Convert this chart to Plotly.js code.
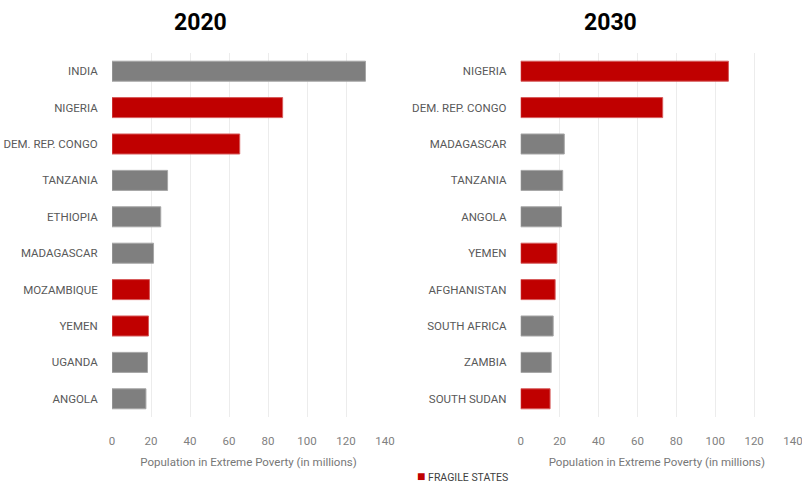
<!DOCTYPE html>
<html>
<head>
<meta charset="utf-8">
<script src="https://cdn.plot.ly/plotly-3.0.1.min.js"></script>
<style>html,body{margin:0;padding:0;background:#fff}#chart{width:802px;height:483px}</style>
</head>
<body>
<div id="chart"></div>
<script>
// 2020 panel
const countries2020 = ["INDIA","NIGERIA","DEM. REP. CONGO","TANZANIA","ETHIOPIA","MADAGASCAR","MOZAMBIQUE","YEMEN","UGANDA","ANGOLA"];
const values2020 = [130, 87.5, 65.5, 28.5, 25, 21.3, 19.2, 18.7, 18.2, 17.4];
const fragile2020 = [false, true, true, false, false, false, true, true, false, false];
// 2030 panel
const countries2030 = ["NIGERIA","DEM. REP. CONGO","MADAGASCAR","TANZANIA","ANGOLA","YEMEN","AFGHANISTAN","SOUTH AFRICA","ZAMBIA","SOUTH SUDAN"];
const values2030 = [106.8, 73, 22.4, 21.6, 21, 18.6, 17.7, 16.7, 15.7, 15.1];
const fragile2030 = [true, true, false, false, false, true, true, false, false, true];
const xTicks = [0, 20, 40, 60, 80, 100, 120, 140];
const panelTitles = ["2020", "2030"];
const axisTitle = "Population in Extreme Poverty (in millions)";
const legendLabel = "FRAGILE STATES";

const RED = "#C00000", GRAY = "#7F7F7F";
const FONT = "Roboto, 'Liberation Sans', sans-serif";

function split(cats, vals, flags, wantFragile) {
  return {x: vals.map((v, i) => flags[i] === wantFragile ? v : null), y: cats};
}
function traces(cats, vals, flags, xa, ya) {
  const f = split(cats, vals, flags, true), g = split(cats, vals, flags, false);
  return [
    {type: "bar", orientation: "h", x: g.x, y: g.y, xaxis: xa, yaxis: ya,
     marker: {color: GRAY, line: {color: "#a6a6a6", width: 1}}, showlegend: false, hoverinfo: "x+y"},
    {type: "bar", orientation: "h", x: f.x, y: f.y, xaxis: xa, yaxis: ya, name: legendLabel,
     marker: {color: RED, line: {color: "#d65a5a", width: 1}}, showlegend: false, hoverinfo: "x+y"}
  ];
}

const data = [
  ...traces(countries2020, values2020, fragile2020, "x", "y"),
  ...traces(countries2030, values2030, fragile2030, "x2", "y2")
];

function xax(domain, anchor) {
  return {
    domain: domain, anchor: anchor, range: [0, 140], tickvals: xTicks,
    showgrid: true, gridcolor: "#ececec", gridwidth: 1, zeroline: false, showline: false,
    ticks: "outside", ticklen: 13, tickcolor: "rgba(0,0,0,0)", ticklabeloverflow: "allow",
    tickfont: {family: FONT, size: 11.5, color: "#808080"},
    title: {text: axisTitle, font: {family: FONT, size: 11.5, color: "#777777"}, standoff: 11},
    fixedrange: true
  };
}
function yax(cats, anchor) {
  return {
    anchor: anchor, type: "category", categoryorder: "array", categoryarray: cats,
    autorange: "reversed", showgrid: false, zeroline: false, showline: false,
    ticks: "outside", ticklen: 11, tickcolor: "rgba(0,0,0,0)",
    tickfont: {family: FONT, size: 11.5, color: "#595959"}, fixedrange: true
  };
}

const layout = {
  width: 802, height: 483,
  margin: {l: 0, r: 0, t: 53, b: 66},
  paper_bgcolor: "#fff", plot_bgcolor: "#fff",
  barmode: "relative", bargap: 0.45,
  xaxis: xax([112/802, 385/802], "y"),
  yaxis: yax(countries2020, "x"),
  xaxis2: xax([520.7/802, 793/802], "y2"),
  yaxis2: yax(countries2030, "x2"),
  showlegend: false,
  annotations: [
    {text: "<b>" + panelTitles[0] + "</b>", xref: "paper", yref: "paper", x: 200/802, y: 1.085,
     showarrow: false, font: {family: "Roboto, sans-serif", size: 23, color: "#000"}, xanchor: "center", yanchor: "middle"},
    {text: "<b>" + panelTitles[1] + "</b>", xref: "paper", yref: "paper", x: 610/802, y: 1.085,
     showarrow: false, font: {family: "Roboto, sans-serif", size: 23, color: "#000"}, xanchor: "center", yanchor: "middle"},
    {text: "<span style='color:" + RED + ";font-size:14px'>■</span> " + legendLabel, xref: "paper", yref: "paper",
     x: 415/802, y: (417 - 476) / 364, xanchor: "left", yanchor: "middle", showarrow: false,
     font: {family: FONT, size: 10.5, color: "#404040"}}
  ]
};

Plotly.newPlot("chart", data, layout, {displayModeBar: false, staticPlot: true});
</script>
</body>
</html>
